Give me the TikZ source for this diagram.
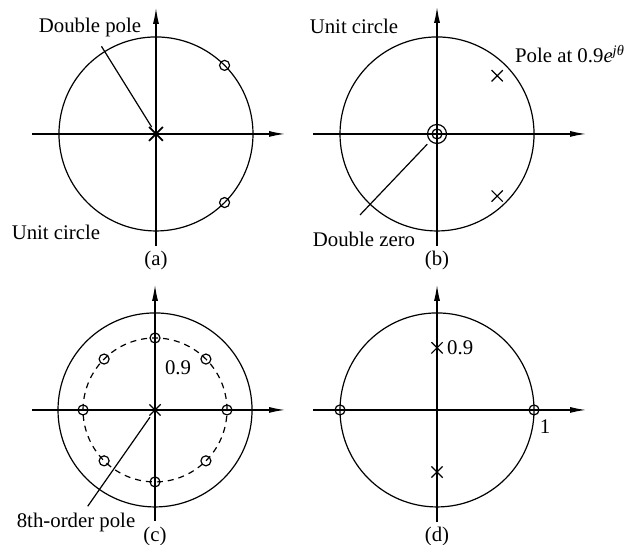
\documentclass[tikz,border=0pt]{standalone}
\usepackage{fontspec}
\setmainfont{Liberation Serif}
\usetikzlibrary{arrows.meta,shapes.misc}

\begin{document}
\begin{tikzpicture}[x=48.5pt, y=48.5pt, line width=0.6pt, font=\fontsize{10.4}{12}\selectfont,
    axis/.style={-{Latex[length=8pt,width=3pt]}},
    zmark/.style={circle, draw, inner sep=0pt, minimum size=5pt},
    pmark/.style={cross out, draw, inner sep=0pt, minimum size=5pt}]
  \useasboundingbox (-1.608,-4.237) rectangle (4.876,1.381);

  \draw (0,0) circle (1);
  \draw[axis] (-1.28,0) -- (1.33,0);
  \draw[axis] (0,-1.155) -- (0,1.30);
  \node[pmark, minimum size=6pt, line width=0.9pt] (pA) at (0,0) {};
  \node[zmark] (zA1) at (45:1) {};
  \node[zmark] (zA2) at (-45:1) {};
  \node (dpA) at (-0.68,1.093) {Double pole};
  \draw[shorten <=1pt] (dpA) -- (pA);
  \node (ucA) at (-1.031,-1.01) {Unit circle};
  \node (capA) at (0,-1.30) {(a)};

  \begin{scope}[shift={(2.897,0)}]
    \draw (0,0) circle (1);
    \draw[axis] (-1.278,0) -- (1.536,0);
    \draw[axis] (0,-1.155) -- (0,1.31);
    \node[zmark, minimum size=9.5pt] (zB) at (0,0) {};
    \node[zmark] (zB2) at (0,0) {};
    \node[pmark] (pB1) at (0.62,0.60) {};
    \node[pmark] (pB2) at (0.62,-0.64) {};
    \node (ucB) at (-0.856,1.113) {Unit circle};
    \node (plB) at (1.371,0.825) {Pole at 0.9\textit{e}\textsuperscript{\textit{jθ}}};
    \coordinate (dzEnd) at (-0.794,-0.835);
    \node (dzB) at (-0.753,-1.082) {Double zero};
    \draw[shorten >=2pt] (dzEnd) -- (zB);
    \node (capB) at (0,-1.30) {(b)};
  \end{scope}

  \begin{scope}[shift={(-0.01,-2.845)}]
    \draw (0,0) circle (1);
    \draw[dash pattern=on 3pt off 2.5pt] (0,0) circle (0.742);
    \draw[axis] (-1.27,0) -- (1.34,0);
    \draw[axis] (0,-1.14) -- (0,1.29);
    \foreach \a in {0,45,...,315}
      \node[zmark] (zC\a) at (\a:0.742) {};
    \node[pmark] (pC) at (0,0) {};
    \node (lbC) at (0.237,0.433) {0.9};
    \node (opC) at (-0.814,-1.165) {8th-order pole};
    \draw[shorten >=1pt] (opC) -- (pC);
    \node (capC) at (0,-1.30) {(c)};
  \end{scope}

  \begin{scope}[shift={(2.897,-2.845)}]
    \draw (0,0) circle (1);
    \draw[axis] (-1.278,0) -- (1.536,0);
    \draw[axis] (0,-1.15) -- (0,1.29);
    \node[zmark] (zD1) at (1,0) {};
    \node[zmark] (zD2) at (-1,0) {};
    \node[pmark] (pD1) at (0,0.64) {};
    \node[pmark] (pD2) at (0,-0.64) {};
    \node[right, inner sep=2pt] (lbD) at (pD1.east) {0.9};
    \node (oneD) at (1.113,-0.175) {1};
    \node (capD) at (0,-1.30) {(d)};
  \end{scope}
\end{tikzpicture}
\end{document}
